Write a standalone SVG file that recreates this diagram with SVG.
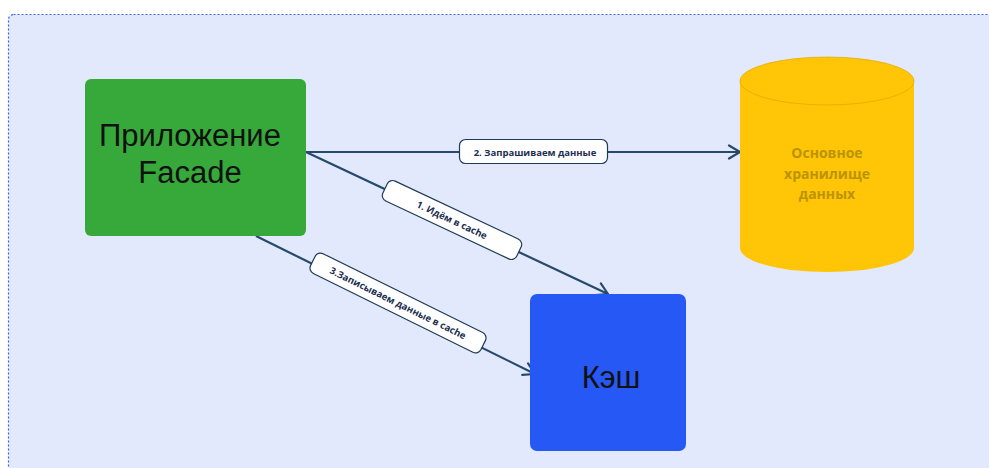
<svg xmlns="http://www.w3.org/2000/svg" width="989" height="468" viewBox="0 0 989 468">
  <defs>
    <marker id="chev" markerUnits="userSpaceOnUse" markerWidth="16" markerHeight="16" refX="13" refY="8" orient="auto">
      <path d="M2,1.5 L13,8 L2,14.5" fill="none" stroke="#264a6b" stroke-width="2.2" stroke-linecap="round" stroke-linejoin="round"/>
    </marker>
    <style>
      .edge { fill: none; stroke: #264a6b; stroke-width: 2.2; marker-end: url(#chev); }
      .tag { fill: #ffffff; stroke: #1f3b5a; stroke-width: 1.2; }
      .tagtxt { font-family: "Open Sans", "Noto Sans", sans-serif; font-weight: 700; font-size: 9.5px; fill: #1c2e50; text-anchor: middle; dominant-baseline: central; }
      .big { font-family: "Liberation Sans", Arial, sans-serif; font-size: 31px; fill: #111111; text-anchor: middle; }
      .db { font-family: "Open Sans", "Noto Sans", sans-serif; font-weight: 700; font-size: 14px; fill: #bb9300; text-anchor: middle; }
    </style>
  </defs>

  <rect width="989" height="468" fill="#ffffff"/>
  <!-- canvas frame -->
  <rect x="8.5" y="14.5" width="1000" height="480" rx="5" fill="#e3e9fc" stroke="#3c5ef2" stroke-width="1.2" stroke-dasharray="2 2"/>

  <g id="connectors">
    <g id="edge-request">
      <path class="edge" d="M306,152 L740,152"/>
      <rect class="tag" x="459.5" y="139.5" width="148" height="24" rx="6"/>
      <text class="tagtxt" x="535" y="152">2. Запрашиваем данные</text>
    </g>
    <g id="edge-cache-read">
      <path class="edge" d="M306,152 L608,294"/>
      <g transform="translate(452,220) rotate(25.2)">
        <rect class="tag" x="-74" y="-11" width="148" height="22" rx="6"/>
        <text class="tagtxt" x="0" y="0">1. Идём в cache</text>
      </g>
    </g>
    <g id="edge-cache-write">
      <path class="edge" d="M256,236 L535,374"/>
      <g transform="translate(398,303) rotate(26.3)">
        <rect class="tag" x="-95" y="-11" width="190" height="22" rx="6"/>
        <text class="tagtxt" x="0" y="0">3.Записываем данные в cache</text>
      </g>
    </g>
  </g>

  <g id="app">
    <rect x="85" y="79" width="221" height="157" rx="6" fill="#36a93a"/>
    <text class="big" x="190" y="146">Приложение</text>
    <text class="big" x="190" y="183">Facade</text>
  </g>

  <g id="storage">
    <path d="M740,81 L740,248 A87,24 0 0 0 914,248 L914,81 Z" fill="#ffc506"/>
    <ellipse cx="827" cy="81" rx="87" ry="24" fill="#ffc506" stroke="#e0a900" stroke-width="0.7"/>
    <text class="db" x="827" y="158">Основное</text>
    <text class="db" x="827" y="179">хранилище</text>
    <text class="db" x="827" y="199">данных</text>
  </g>

  <g id="cache">
    <rect x="530" y="294" width="156" height="157" rx="7" fill="#2558f5"/>
    <text class="big" x="611" y="388" font-size="34">Кэш</text>
  </g>
</svg>
